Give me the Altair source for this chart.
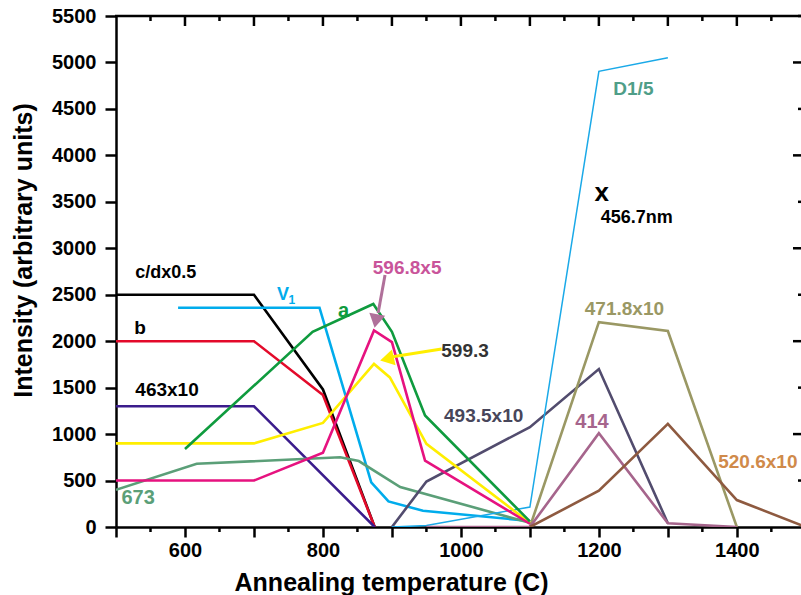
import altair as alt
import pandas as pd

# ---- series: annealing temperature (C) vs. intensity (arbitrary units) ----
temps_cdx = [500, 700, 800, 875]
int_cdx = [2500, 2500, 1480, 0]

temps_b = [500, 700, 800, 875]
int_b = [2000, 2000, 1420, 0]

temps_463 = [500, 700, 875]
int_463 = [1300, 1300, 0]

temps_v1 = [590, 795, 870, 895, 945, 1100]
int_v1 = [2360, 2360, 480, 275, 175, 65]

temps_a = [600, 785, 873, 900, 948, 1100]
int_a = [840, 2100, 2400, 2100, 1200, 60]

temps_596 = [500, 700, 800, 874, 900, 948, 1100]
int_596 = [500, 500, 800, 2115, 1990, 715, 35]

temps_599 = [500, 700, 800, 874, 897, 950, 1100]
int_599 = [900, 900, 1120, 1755, 1610, 895, 45]

temps_673 = [500, 617, 825, 852, 912, 1100]
int_673 = [400, 680, 750, 710, 430, 45]

temps_493 = [900, 950, 1100, 1200, 1300]
int_493 = [0, 490, 1075, 1700, 40]

temps_d15 = [900, 950, 1100, 1200, 1300]
int_d15 = [0, 15, 215, 4905, 5050]

temps_471 = [1100, 1200, 1300, 1400]
int_471 = [0, 2205, 2110, 0]

temps_414 = [950, 1100, 1200, 1300, 1400]
int_414 = [0, 0, 1010, 40, 0]

temps_520 = [1100, 1200, 1300, 1400, 1500]
int_520 = [0, 390, 1110, 290, 0]

# ---- label texts and their anchor positions (data units) ----
label_texts = ["c/dx0.5", "b", "463x10", "V", "1", "a", "596.8x5", "599.3",
               "493.5x10", "673", "D1/5", "x", "456.7nm", "471.8x10", "414"]
label_temps = [572, 535, 574, 742, 755, 830, 922, 1006, 1033, 532, 1250,
               1204, 1255, 1237, 1190]
label_ints = [2739, 2147, 1475, 2502, 2440, 2330, 2788, 1894, 1200, 309,
              4714, 3600, 3326, 2350, 1125]

# label running off the right edge, anchored at its left end
edge_text = ["520.6x10"]
edge_temp = [1373]
edge_int = [703]

# ---- arrows pointing at the two peaks ----
arrow_t1 = [890, 972]
arrow_i1 = [2712, 1916]
arrow_t2 = [880, 901]
arrow_i2 = [2303, 1833]
head_t = [876.8, 892.8]
head_i = [2217, 1808]

# ---- tick positions for the top and right frame edges ----
top_major = list(range(600, 1401, 100))
top_minor = list(range(550, 1451, 100))
right_major = list(range(1000, 5001, 1000))
right_minor = list(range(500, 5501, 1000))

FONT = "Liberation Sans"

series = [
    ("c/dx0.5", temps_cdx, int_cdx, "#000000", 2.6),
    ("b", temps_b, int_b, "#e30a2a", 2.6),
    ("463x10", temps_463, int_463, "#3b1c8c", 2.6),
    ("V1", temps_v1, int_v1, "#00acec", 2.6),
    ("673", temps_673, int_673, "#5b9f78", 2.6),
    ("493.5x10", temps_493, int_493, "#524c6e", 2.6),
    ("D1/5", temps_d15, int_d15, "#1aa9e8", 1.5),
    ("471.8x10", temps_471, int_471, "#9a9864", 2.6),
    ("414", temps_414, int_414, "#a6658c", 2.6),
    ("520.6x10", temps_520, int_520, "#8e5a40", 2.6),
    ("599.3", temps_599, int_599, "#ffee00", 2.6),
    ("596.8x5", temps_596, int_596, "#e6127f", 2.6),
    ("a", temps_a, int_a, "#0f9b3e", 2.6),
]

rows = []
for order, (name, ts, vs, col, w) in enumerate(series):
    for t, v in zip(ts, vs):
        rows.append({"series": name, "T": t, "I": v, "color": col,
                     "w": w, "layer": order})
lines_df = pd.DataFrame(rows)

label_colors = ["#000000", "#000000", "#000000", "#00acec", "#00acec",
                "#0f9b3e", "#c9549a", "#333333", "#48465a", "#5b9f78",
                "#4f9e88", "#000000", "#000000", "#9a9864", "#a6658c"]
label_sizes = [18, 19, 19, 18, 12, 20, 19, 19, 19, 20, 19, 26, 18, 19, 20]
labels_df = pd.DataFrame({
    "text": label_texts, "T": label_temps, "I": label_ints,
    "color": label_colors, "size": label_sizes,
})
edge_df = pd.DataFrame({"text": edge_text, "T": edge_temp, "I": edge_int})

arrows_df = pd.DataFrame({
    "t1": arrow_t1, "i1": arrow_i1, "t2": arrow_t2, "i2": arrow_i2,
    "color": ["#b0709a", "#ffee00"],
})
heads_df = pd.DataFrame({
    "T": head_t, "I": head_i, "color": ["#b0709a", "#ffee00"],
    "shape": ["triangle-down", "triangle-left"], "angle": [11, 347],
})

W, H = 685, 511
x_scale = alt.Scale(domain=[500, 1493], nice=False, zero=False)
y_scale = alt.Scale(domain=[0, 5500], nice=False)

x_axis = alt.Axis(
    values=list(range(500, 1501, 100)),
    labelExpr="datum.value % 200 == 0 ? datum.label : ''",
    format="d", tickSize=10, tickWidth=2.5, domainWidth=2.5,
    domainColor="black", tickColor="black", labelFont=FONT,
    labelFontSize=20, labelFontWeight="bold", labelColor="black",
    labelPadding=3, grid=False, title="Annealing temperature (C)",
    titleFont=FONT, titleFontSize=25, titleFontWeight="bold",
    titleColor="black", titleX=275, titleY=55, titleBaseline="middle",
    titleAlign="center",
)
y_axis = alt.Axis(
    values=list(range(0, 5501, 500)), format="d", tickSize=11,
    tickWidth=2.5, domainWidth=2.5, domainColor="black", tickColor="black",
    labelFont=FONT, labelFontSize=20, labelFontWeight="bold",
    labelColor="black", labelPadding=9, grid=False,
    title="Intensity (arbitrary units)", titleFont=FONT, titleFontSize=25,
    titleFontWeight="bold", titleColor="black", titleX=-93, titleY=234,
    titleAngle=270, titleBaseline="middle", titleAlign="center",
)

lines = alt.Chart(lines_df).mark_line(clip=True).encode(
    x=alt.X("T:Q", scale=x_scale, axis=x_axis),
    y=alt.Y("I:Q", scale=y_scale, axis=y_axis),
    detail="series:N",
    color=alt.Color("color:N", scale=None),
    strokeWidth=alt.StrokeWidth("w:Q", scale=None),
    order=alt.Order("layer:Q"),
)

# short ticks between the labelled ones on the bottom edge
minor_ticks = alt.Chart(
    pd.DataFrame({"T": top_minor})
).mark_rule(color="black", strokeWidth=2.5).encode(
    x=alt.X("T:Q", scale=x_scale),
    y=alt.value(H),
    y2=alt.value(H + 5),
)

# top frame edge with inward ticks
top_edge = alt.Chart(pd.DataFrame({"k": [0]})).mark_rule(
    color="black", strokeWidth=2.5
).encode(x=alt.value(-1), x2=alt.value(W + 2), y=alt.value(0))

top_major_ticks = alt.Chart(pd.DataFrame({"T": top_major})).mark_rule(
    color="black", strokeWidth=2.5
).encode(x=alt.X("T:Q", scale=x_scale), y=alt.value(0), y2=alt.value(10))

top_minor_ticks = alt.Chart(pd.DataFrame({"T": top_minor})).mark_rule(
    color="black", strokeWidth=2.5
).encode(x=alt.X("T:Q", scale=x_scale), y=alt.value(0), y2=alt.value(5))

# right edge ticks (the frame line itself lies just past the window)
right_major_ticks = alt.Chart(pd.DataFrame({"I": right_major})).mark_rule(
    color="black", strokeWidth=2.5
).encode(y=alt.Y("I:Q", scale=y_scale), x=alt.value(W - 8), x2=alt.value(W))

right_minor_ticks = alt.Chart(pd.DataFrame({"I": right_minor})).mark_rule(
    color="black", strokeWidth=2.5
).encode(y=alt.Y("I:Q", scale=y_scale), x=alt.value(W - 3), x2=alt.value(W))

labels = alt.Chart(labels_df).mark_text(
    font=FONT, fontWeight="bold", baseline="middle", align="center"
).encode(
    x=alt.X("T:Q", scale=x_scale),
    y=alt.Y("I:Q", scale=y_scale),
    text="text:N",
    color=alt.Color("color:N", scale=None),
    size=alt.Size("size:Q", scale=None),
)

edge_label = alt.Chart(edge_df).mark_text(
    font=FONT, fontWeight="bold", baseline="middle", align="left",
    fontSize=19, color="#d08a4a"
).encode(
    x=alt.X("T:Q", scale=x_scale),
    y=alt.Y("I:Q", scale=y_scale),
    text="text:N",
)

arrows = alt.Chart(arrows_df).mark_rule(strokeWidth=3).encode(
    x=alt.X("t1:Q", scale=x_scale),
    y=alt.Y("i1:Q", scale=y_scale),
    x2="t2:Q",
    y2="i2:Q",
    color=alt.Color("color:N", scale=None),
)

heads = alt.Chart(heads_df).mark_point(filled=True, size=260, opacity=1).encode(
    x=alt.X("T:Q", scale=x_scale),
    y=alt.Y("I:Q", scale=y_scale),
    color=alt.Color("color:N", scale=None),
    shape=alt.Shape("shape:N", scale=None),
    angle=alt.Angle("angle:Q", scale=None),
)

chart = alt.layer(
    lines, minor_ticks, top_edge, top_major_ticks, top_minor_ticks,
    right_major_ticks, right_minor_ticks, arrows, heads, labels, edge_label
).properties(
    width=W, height=H,
    background="white",
    autosize=alt.AutoSizeParams(type="none"),
    padding={"left": 116, "top": 16, "right": 0, "bottom": 68},
).configure_view(stroke=None)

chart.save("out.html", embed_options={"renderer": "svg", "actions": False})
